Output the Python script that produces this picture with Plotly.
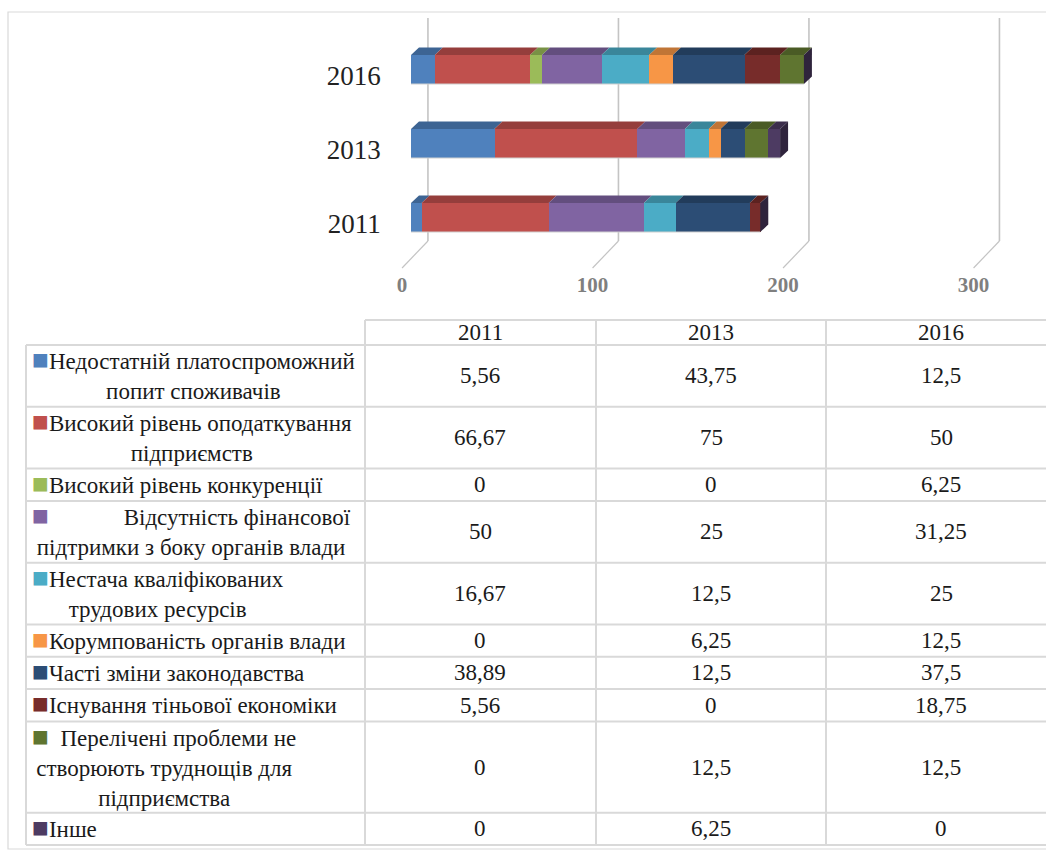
import plotly.graph_objects as go

# ---------------- data ----------------
years = ["2011", "2013", "2016"]
NB = "\u00a0"
categories = [
    ["Недостатній платоспроможний", "попит споживачів"],
    ["Високий рівень оподаткування", "підприємств"],
    ["Високий рівень конкуренції"],
    [NB * 13 + "Відсутність фінансової", "підтримки з боку органів влади"],
    ["Нестача кваліфікованих", "трудових ресурсів"],
    ["Корумпованість органів влади"],
    ["Часті зміни законодавства"],
    ["Існування тіньової економіки"],
    [NB * 2 + "Перелічені проблеми не", "створюють труднощів для", "підприємства"],
    ["Інше"],
]
v2011 = [5.56, 66.67, 0, 50, 16.67, 0, 38.89, 5.56, 0, 0]
v2013 = [43.75, 75, 0, 25, 12.5, 6.25, 12.5, 0, 12.5, 6.25]
v2016 = [12.5, 50, 6.25, 31.25, 25, 12.5, 37.5, 18.75, 12.5, 0]
x_ticks = [0, 100, 200, 300]

colors = ["#4F81BD", "#C0504D", "#9BBB59", "#8064A2", "#4BACC6",
          "#F79646", "#2C4D75", "#772C2A", "#5F7530", "#4D3B62"]

# ---------------- helpers ----------------
W, H = 1046, 853


def shade(hexcol, f):
    h = hexcol.lstrip("#")
    r, g, b = (int(h[i:i + 2], 16) for i in (0, 2, 4))
    return "#%02X%02X%02X" % (int(r * f), int(g * f), int(b * f))


def px(xp):
    return xp / W


def py(yp):
    return 1 - yp / H


def fmt(v):
    return ("%g" % v).replace(".", ",")


series_by_year = [v2011, v2013, v2016]
ypos = list(range(len(years)))

fig = go.Figure()

bar_w = 0.392
for i, col in enumerate(colors):
    fig.add_trace(go.Bar(
        x=[series_by_year[j][i] for j in range(len(years))],
        y=ypos,
        orientation="h",
        width=bar_w,
        marker=dict(color=col, line=dict(width=0)),
        name=" ".join(categories[i]).strip(),
        showlegend=False,
    ))

shapes = []
# pseudo-3D depth
dx, dy = 4.2, 0.101
for j, vals in enumerate(series_by_year):
    yc = ypos[j]
    top = yc + bar_w / 2
    bot = yc - bar_w / 2
    acc = 0.0
    for i, v in enumerate(vals):
        a, b = acc, acc + v
        acc = b
        if v <= 0:
            continue
        shapes.append(dict(
            type="path", xref="x", yref="y", layer="above",
            path=f"M {a} {top} L {a + dx} {top + dy} L {b + dx} {top + dy} L {b} {top} Z",
            fillcolor=shade(colors[i], 0.78), line=dict(width=0)))
    # end side face
    shapes.append(dict(
        type="path", xref="x", yref="y", layer="above",
        path=f"M {acc} {bot} L {acc} {top} L {acc + dx} {top + dy} L {acc + dx} {bot + dy} Z",
        fillcolor=shade(colors[-1], 0.62), line=dict(width=0)))
    # light bottom edge
    shapes.append(dict(type="line", xref="x", yref="y", layer="above",
                       x0=0, x1=acc, y0=bot, y1=bot,
                       line=dict(color="#d0d0d0", width=1)))

# gridlines on back wall + floor diagonals
gx_off, front_off = 8.9, -4.7
g_top, g_bot, f_bot = 2.696, -0.318, -0.682
for v in x_ticks:
    shapes.append(dict(type="line", xref="x", yref="y", layer="below",
                       x0=v + gx_off, x1=v + gx_off, y0=g_bot, y1=g_top,
                       line=dict(color="#c4c4c4", width=1.6)))
    shapes.append(dict(type="line", xref="x", yref="y", layer="below",
                       x0=v + gx_off, x1=v + front_off, y0=g_bot, y1=f_bot,
                       line=dict(color="#c4c4c4", width=1.2)))

# ---------------- table ----------------
line_col = "#d9d9d9"
tbl_left, c1, c2, c3, tbl_right = 26, 365, 596, 826, 1056
hdr_top, hdr_bot = 320, 345
row_h = [32.3 + 29.5 * (len(c) - 1) for c in categories]
row_edges = [hdr_bot]
for h in row_h:
    row_edges.append(row_edges[-1] + h)

# horizontal lines
shapes.append(dict(type="line", xref="paper", yref="paper",
                   x0=px(c1), x1=px(tbl_right), y0=py(hdr_top), y1=py(hdr_top),
                   line=dict(color=line_col, width=2)))
for ye in row_edges:
    shapes.append(dict(type="line", xref="paper", yref="paper",
                       x0=px(tbl_left), x1=px(tbl_right), y0=py(ye), y1=py(ye),
                       line=dict(color=line_col, width=2)))
# vertical lines
shapes.append(dict(type="line", xref="paper", yref="paper",
                   x0=px(tbl_left), x1=px(tbl_left), y0=py(hdr_bot), y1=py(row_edges[-1]),
                   line=dict(color=line_col, width=2)))
for xc in (c1, c2, c3):
    shapes.append(dict(type="line", xref="paper", yref="paper",
                       x0=px(xc), x1=px(xc), y0=py(hdr_top), y1=py(row_edges[-1]),
                       line=dict(color=line_col, width=2)))
# outer frame
shapes.append(dict(type="rect", xref="paper", yref="paper",
                   x0=px(8), x1=px(1060), y0=py(12), y1=py(849),
                   line=dict(color="#d9d9d9", width=1.2), fillcolor="rgba(0,0,0,0)"))

annotations = []
tfont = dict(family="Liberation Serif", size=23, color="#1a1a1a")
col_centers = [(c1 + c2) / 2, (c2 + c3) / 2, (c3 + tbl_right) / 2]
for k, yr in enumerate(years):
    annotations.append(dict(xref="paper", yref="paper", x=px(col_centers[k]),
                            y=py((hdr_top + hdr_bot) / 2), text=yr, showarrow=False,
                            xanchor="center", yanchor="middle", font=tfont))
for r, lines in enumerate(categories):
    yc = (row_edges[r] + row_edges[r + 1]) / 2
    first = (f"<span style='color:{colors[r]};font-size:28px'>■</span>" + lines[0])
    txt = "<br>".join([first] + lines[1:])
    annotations.append(dict(xref="paper", yref="paper", x=px(30), y=py(yc - 1.5),
                            text=txt, showarrow=False, xanchor="left",
                            yanchor="middle", align="center", font=tfont))
    for k in range(len(years)):
        annotations.append(dict(xref="paper", yref="paper", x=px(col_centers[k]),
                                y=py(yc), text=fmt(series_by_year[k][r]),
                                showarrow=False, xanchor="center", yanchor="middle",
                                font=tfont))

# ---------------- axes / layout ----------------
scale = 1.905  # px per unit
x0_px = 411
xr = [-8, 330]
xdom = [px(x0_px + xr[0] * scale), px(x0_px + xr[1] * scale)]
yc_px = [217.5, 143.5, 69.5]
ups = 74.0
yr_ = [-0.7, 2.7]
ydom = [py(yc_px[0] - yr_[0] * ups), py(yc_px[0] - yr_[1] * ups)]

fig.update_layout(
    width=W, height=H,
    margin=dict(l=0, r=0, t=0, b=0),
    paper_bgcolor="white", plot_bgcolor="white",
    barmode="stack", bargap=0,
    shapes=shapes, annotations=annotations,
    xaxis=dict(domain=xdom, range=xr, showgrid=False, zeroline=False,
               showline=False, ticks="",
               tickvals=[v + front_off for v in x_ticks],
               ticktext=[str(v) for v in x_ticks],
               tickfont=dict(family="Liberation Serif", size=21, color="#7f7f7f",
                             weight="bold"),
               ticklabelstandoff=1, fixedrange=True),
    yaxis=dict(domain=ydom, range=yr_, showgrid=False, zeroline=False,
               showline=False, ticks="",
               tickvals=[p - 6 / ups for p in ypos], ticktext=years,
               tickfont=dict(family="Liberation Serif", size=27, color="#222222"),
               ticklabelstandoff=14, fixedrange=True),
    hovermode=False,
)

fig.write_html("out.html", config={"displayModeBar": False},
               post_script="document.body.style.margin='0';")
